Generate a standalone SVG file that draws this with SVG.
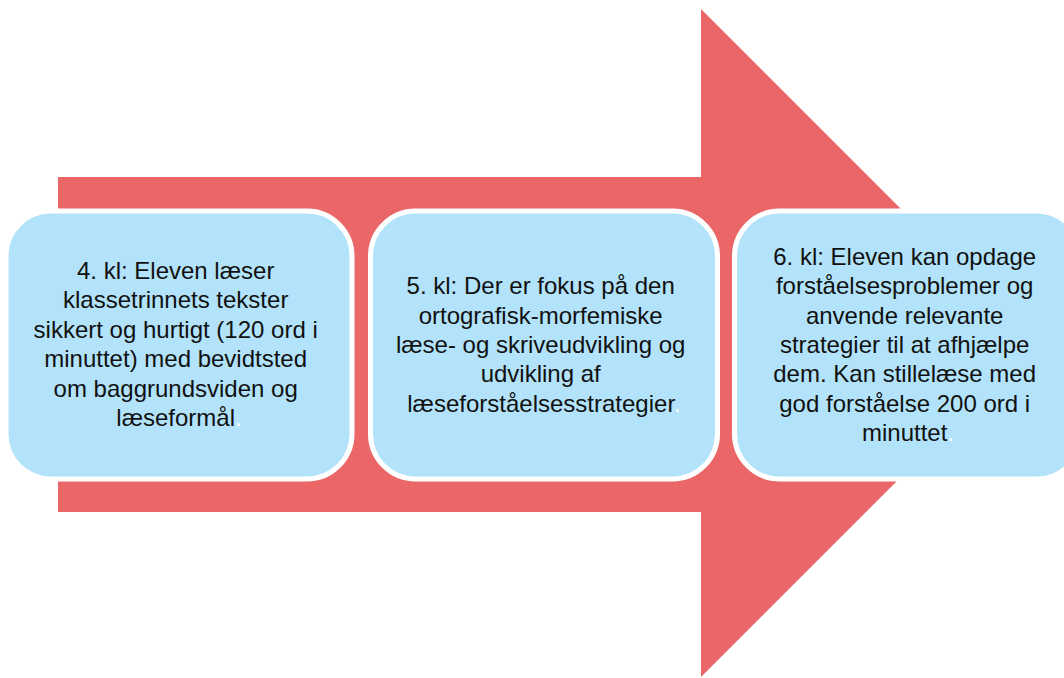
<svg xmlns="http://www.w3.org/2000/svg" width="1064" height="678" viewBox="0 0 1064 678">
  <style>
    .box { fill: #B2E3FA; stroke: #FFFFFF; stroke-width: 5; }
    .lbl { font-family: "Liberation Sans", Arial, sans-serif; font-size: 24px; fill: #111111; text-anchor: middle; }
    .dot { fill: #FFFFFF; }
  </style>
  <rect width="1064" height="678" fill="#FFFFFF"/>
  <g id="connectors">
    <polygon id="arrow" points="58,177 701,177 701,9 1035,343 701,677 701,512 58,512" fill="#EB6767"/>
  </g>
  <g id="node1">
    <rect class="box" x="6" y="211" width="346" height="268" rx="45" ry="45"/>
    <text class="lbl">
      <tspan x="179" y="279">4. kl: Eleven læser</tspan>
      <tspan x="179" y="308.4">klassetrinnets tekster</tspan>
      <tspan x="179" y="337.8">sikkert og hurtigt (120 ord i</tspan>
      <tspan x="179" y="367.2">minuttet) med bevidtsted</tspan>
      <tspan x="179" y="396.6">om baggrundsviden og</tspan>
      <tspan x="179" y="426">læseformål<tspan class="dot">.</tspan></tspan>
    </text>
  </g>
  <g id="node2">
    <rect class="box" x="370.5" y="211" width="347" height="268" rx="45" ry="45"/>
    <text class="lbl">
      <tspan x="544" y="294.3">5. kl: Der er fokus på den</tspan>
      <tspan x="544" y="323.6">ortografisk-morfemiske</tspan>
      <tspan x="544" y="352.9">læse- og skriveudvikling og</tspan>
      <tspan x="544" y="382.2">udvikling af</tspan>
      <tspan x="544" y="411.5">læseforståelsesstrategier<tspan class="dot">.</tspan></tspan>
    </text>
  </g>
  <g id="node3">
    <rect class="box" x="734.5" y="211" width="347" height="268" rx="45" ry="45"/>
    <text class="lbl">
      <tspan x="908" y="265">6. kl: Eleven kan opdage</tspan>
      <tspan x="908" y="294.3">forståelsesproblemer og</tspan>
      <tspan x="908" y="323.6">anvende relevante</tspan>
      <tspan x="908" y="352.9">strategier til at afhjælpe</tspan>
      <tspan x="908" y="382.2">dem. Kan stillelæse med</tspan>
      <tspan x="908" y="411.5">god forståelse 200 ord i</tspan>
      <tspan x="908" y="440.8">minuttet<tspan class="dot">.</tspan></tspan>
    </text>
  </g>
</svg>
